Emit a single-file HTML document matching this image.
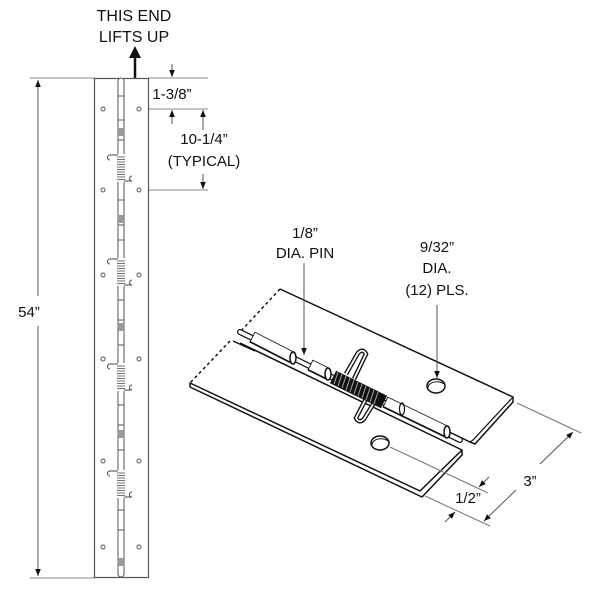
<!DOCTYPE html>
<html><head><meta charset="utf-8"><style>
html,body{margin:0;padding:0;background:#fff}
svg{display:block}
text{font-family:"Liberation Sans",Arial,sans-serif;fill:#111}
</style></head><body>
<svg width="600" height="600" viewBox="0 0 600 600" xmlns="http://www.w3.org/2000/svg">
<defs>
<marker id="ah" viewBox="0 0 10 10" refX="10" refY="5" markerWidth="7" markerHeight="7" orient="auto-start-reverse"><path d="M0,1 L10,5 L0,9 z" fill="#111"/></marker>
</defs>
<!-- Top label -->
<text x="134" y="21" font-size="16" text-anchor="middle">THIS END</text>
<text x="134" y="42" font-size="16" text-anchor="middle">LIFTS UP</text>
<line x1="135" y1="80" x2="135" y2="58" stroke="#111" stroke-width="2.5"/>
<path d="M129,58 L135,46 L141,58 z" fill="#111"/>

<!-- 54" dimension -->
<g stroke="#888" stroke-width="1">
<line x1="30" y1="78" x2="95" y2="78"/>
<line x1="30" y1="578" x2="95" y2="578"/>
<line x1="148" y1="78" x2="208" y2="78"/>
<line x1="143" y1="109" x2="208" y2="109"/>
<line x1="143" y1="190" x2="208" y2="190"/>
</g>
<line x1="38" y1="80" x2="38" y2="296" stroke="#555" marker-start="url(#ah)"/>
<line x1="38" y1="326" x2="38" y2="576" stroke="#555" marker-end="url(#ah)"/>
<text x="29" y="317" font-size="15" text-anchor="middle">54”</text>

<line x1="172" y1="64" x2="172" y2="77" stroke="#555" marker-end="url(#ah)"/>
<line x1="172" y1="124" x2="172" y2="110" stroke="#555" marker-end="url(#ah)"/>
<text x="172" y="99" font-size="15" text-anchor="middle">1-3/8”</text>
<line x1="203" y1="130" x2="203" y2="110" stroke="#555" marker-end="url(#ah)"/>
<line x1="203" y1="174" x2="203" y2="189" stroke="#555" marker-end="url(#ah)"/>
<text x="204" y="144" font-size="15" text-anchor="middle">10-1/4”</text>
<text x="204" y="166" font-size="15" text-anchor="middle">(TYPICAL)</text>

<!-- Long hinge -->
<rect x="94.5" y="78.5" width="54" height="499" fill="#fff" stroke="#555" stroke-width="1.2"/>
<rect x="118" y="78" width="6" height="499" rx="3" fill="#fff" stroke="#555" stroke-width="1"/>
<g stroke="#555" stroke-width="1">
<line x1="118" y1="96" x2="124" y2="96"/><line x1="118" y1="120" x2="124" y2="120"/>
<line x1="118" y1="140" x2="124" y2="140"/><line x1="118" y1="200" x2="124" y2="200"/>
<line x1="118" y1="225" x2="124" y2="225"/><line x1="118" y1="240" x2="124" y2="240"/>
<line x1="118" y1="300" x2="124" y2="300"/><line x1="118" y1="320" x2="124" y2="320"/>
<line x1="118" y1="345" x2="124" y2="345"/><line x1="118" y1="405" x2="124" y2="405"/>
<line x1="118" y1="425" x2="124" y2="425"/><line x1="118" y1="450" x2="124" y2="450"/>
<line x1="118" y1="510" x2="124" y2="510"/><line x1="118" y1="530" x2="124" y2="530"/>
</g>
<g fill="#999"><rect x="118" y="128" width="6" height="8"/><rect x="118" y="215" width="6" height="8"/><rect x="118" y="323" width="6" height="8"/><rect x="118" y="430" width="6" height="8"/><rect x="118" y="558" width="6" height="8"/></g>
<g fill="#fff" stroke="#555" stroke-width="1">
<circle cx="103" cy="109" r="2"/><circle cx="139" cy="109" r="2"/>
<circle cx="103" cy="190" r="2"/><circle cx="139" cy="190" r="2"/>
<circle cx="103" cy="275" r="2"/><circle cx="139" cy="275" r="2"/>
<circle cx="103" cy="359" r="2"/><circle cx="139" cy="359" r="2"/>
<circle cx="103" cy="461" r="2"/><circle cx="139" cy="461" r="2"/>
<circle cx="103" cy="547" r="2"/><circle cx="139" cy="547" r="2"/>
</g>
<!-- springs -->
<g stroke="#444" stroke-width="1" fill="none">
<g id="sp">
<rect x="117.5" y="154" width="7" height="28" fill="#fff" stroke="none"/>
<path d="M118,155 h-8 a2.5,2.5 0 0 0 0,5 M124,181 h8 a2.5,2.5 0 0 1 0,-5"/>
<path stroke-width="0.8" d="M117,157 h8 M117,159.5 h8 M117,162 h8 M117,164.5 h8 M117,167 h8 M117,169.5 h8 M117,172 h8 M117,174.5 h8 M117,177 h8 M117,179.5 h8"/>
</g>
<use href="#sp" y="104"/><use href="#sp" y="209"/><use href="#sp" y="316"/>
</g>

<!-- Isometric hinge -->
<path d="M280,289 L513,397 L513,402 L475,444 L470,442 L445,430" fill="#fff" stroke="#111" stroke-width="1.5" stroke-linejoin="round"/>
<path d="M513,397 L473,440 L470,442" fill="none" stroke="#111" stroke-width="1.2"/>
<line x1="280" y1="289" x2="240" y2="332" stroke="#111" stroke-width="1.5" stroke-dasharray="3,3"/>
<path d="M462,450 L462,455 L422,497 L190,387 L190,383 L420,491 L462,450 L240,343" fill="#fff" stroke="#111" stroke-width="1.5" stroke-linejoin="round"/>
<line x1="230" y1="341" x2="190" y2="383" stroke="#111" stroke-width="1.5" stroke-dasharray="3,3"/>
<line x1="233" y1="341" x2="255" y2="351" stroke="#111" stroke-width="1.3"/>
<!-- pin -->
<line x1="240" y1="332" x2="460" y2="440" stroke="#111" stroke-width="6" stroke-linecap="round"/>
<line x1="240" y1="332" x2="460" y2="440" stroke="#fff" stroke-width="3.6" stroke-linecap="round"/>
<!-- barrels -->
<g stroke-linecap="butt">
<line x1="252" y1="337" x2="293" y2="358" stroke="#111" stroke-width="12"/>
<line x1="253" y1="337" x2="292" y2="357" stroke="#fff" stroke-width="9.5"/>
<line x1="310" y1="365" x2="328" y2="374" stroke="#111" stroke-width="12"/>
<line x1="311" y1="365" x2="327" y2="373" stroke="#fff" stroke-width="9.5"/>
<line x1="385" y1="402" x2="447" y2="432" stroke="#111" stroke-width="12"/>
<line x1="386" y1="402" x2="446" y2="431" stroke="#fff" stroke-width="9.5"/>
</g>
<ellipse cx="293" cy="358" rx="3" ry="6" fill="#fff" stroke="#111" stroke-width="1.5"/>
<ellipse cx="328" cy="374" rx="3" ry="6" fill="#fff" stroke="#111" stroke-width="1.5"/>
<ellipse cx="402" cy="409" rx="2.5" ry="6" fill="none" stroke="#111" stroke-width="1.2"/>
<ellipse cx="447" cy="432" rx="3" ry="6" fill="#fff" stroke="#111" stroke-width="1.5"/>
<!-- spring arms -->
<path d="M346,374 L358,353 q5,-5 8,1 L354,379" fill="none" stroke="#111" stroke-width="4.5"/>
<path d="M346,374 L358,353 q5,-5 8,1 L354,379" fill="none" stroke="#fff" stroke-width="1.8"/>
<path d="M377,398 L364,419 q-5,5 -8,-1 L369,393" fill="none" stroke="#111" stroke-width="4.5"/>
<path d="M377,398 L364,419 q-5,5 -8,-1 L369,393" fill="none" stroke="#fff" stroke-width="1.8"/>
<!-- coil -->
<line x1="333" y1="377" x2="384" y2="402" stroke="#111" stroke-width="14"/>
<g stroke="#aaa" stroke-width="1">
<line x1="338" y1="372" x2="334" y2="384"/><line x1="342" y1="374" x2="338" y2="386"/>
<line x1="346" y1="376" x2="342" y2="388"/><line x1="350" y1="378" x2="346" y2="390"/>
<line x1="354" y1="380" x2="350" y2="392"/><line x1="358" y1="382" x2="354" y2="394"/>
<line x1="362" y1="384" x2="358" y2="396"/><line x1="366" y1="386" x2="362" y2="398"/>
<line x1="370" y1="388" x2="366" y2="400"/><line x1="374" y1="390" x2="370" y2="402"/>
<line x1="378" y1="392" x2="374" y2="404"/>
</g>
<!-- holes -->
<ellipse cx="436" cy="386" rx="9" ry="7" fill="#fff" stroke="#111" stroke-width="1.5"/>
<path d="M428,388 a9,6 0 0 1 17,-3" fill="none" stroke="#111" stroke-width="1"/>
<ellipse cx="380" cy="443" rx="9" ry="7" fill="#fff" stroke="#111" stroke-width="1.5"/>
<path d="M372,445 a9,6 0 0 1 17,-3" fill="none" stroke="#111" stroke-width="1"/>

<!-- labels -->
<text x="305" y="238" font-size="15" text-anchor="middle">1/8”</text>
<text x="305" y="258" font-size="15" text-anchor="middle">DIA. PIN</text>
<line x1="304" y1="263" x2="304" y2="355" stroke="#555" marker-end="url(#ah)"/>
<text x="437" y="252" font-size="15" text-anchor="middle">9/32”</text>
<text x="437" y="273" font-size="15" text-anchor="middle">DIA.</text>
<text x="437" y="295" font-size="15" text-anchor="middle">(12) PLS.</text>
<line x1="437" y1="305" x2="437" y2="378" stroke="#555" marker-end="url(#ah)"/>

<!-- 3" and 1/2" dims -->
<g stroke="#777" stroke-width="1">
<line x1="517" y1="403" x2="581" y2="433"/>
<line x1="425" y1="496" x2="490" y2="526"/>
<line x1="390" y1="447" x2="488" y2="493"/>
</g>
<line x1="540" y1="464" x2="573" y2="432" stroke="#555" marker-end="url(#ah)"/>
<line x1="516" y1="490" x2="484" y2="521" stroke="#555" marker-end="url(#ah)"/>
<text x="530" y="486" font-size="15" text-anchor="middle">3”</text>
<line x1="489" y1="477" x2="479" y2="487" stroke="#555" marker-end="url(#ah)"/>
<line x1="445" y1="522" x2="455" y2="512" stroke="#555" marker-end="url(#ah)"/>
<text x="468" y="503" font-size="15" text-anchor="middle">1/2”</text>
</svg>
</body></html>
